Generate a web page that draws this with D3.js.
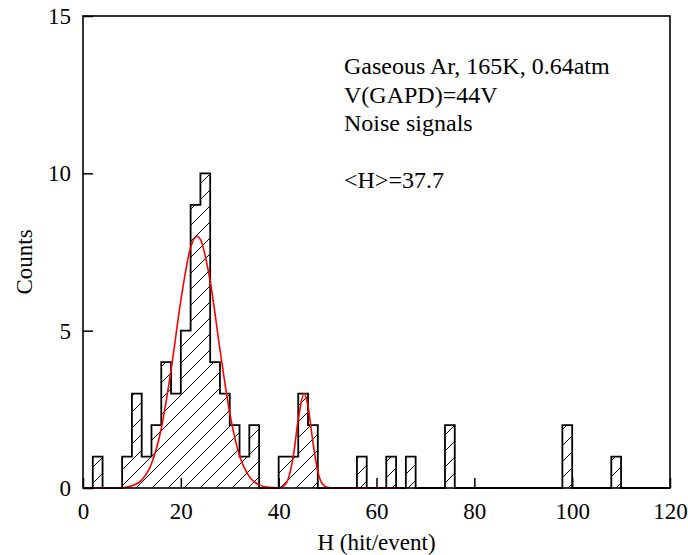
<!doctype html>
<html lang="en">
<head>
<meta charset="utf-8">
<script src="https://d3js.org/d3.v7.min.js"></script>
<style>
  body { margin: 0; background: #fff; }
  svg text { font-family: "Liberation Serif", "Times New Roman", serif; fill: #000; }
</style>
</head>
<body>
<div id="chart"></div>
<script>
// histogram: bins of width 2, only the non-empty ones listed
var binWidth = 2;
var binStarts = [2, 8, 10, 12, 14, 16, 18, 20, 22, 24, 26, 28, 30, 32, 34, 40, 42, 44, 46, 56, 62, 66, 74, 98, 108];
var binCounts = [1, 1, 3, 1, 2, 4, 3, 5, 9, 10, 4, 3, 2, 1, 2, 1, 1, 3, 2, 1, 1, 1, 2, 2, 1];

// red fit curves
var fit1X = [0, 8, 10, 12, 14, 16, 18, 20, 22, 23.3, 24, 26, 28, 30, 32, 34, 36, 38, 40];
var fit1Y = [0, 0.01, 0.07, 0.25, 0.77, 1.89, 3.74, 5.96, 7.64, 8, 7.9, 6.57, 4.4, 2.38, 1.03, 0.36, 0.1, 0.02, 0];
var fit2X = [36, 40, 41, 42, 43, 44, 45.2, 46, 47, 48, 49, 50, 51, 65];
var fit2Y = [0, 0.01, 0.06, 0.31, 1.02, 2.18, 3, 2.6, 1.46, 0.53, 0.12, 0.02, 0, 0];

var xTicks = [0, 20, 40, 60, 80, 100, 120];
var yTicks = [0, 5, 10, 15];
var notes = ["Gaseous Ar, 165K, 0.64atm", "V(GAPD)=44V", "Noise signals", "", "<H>=37.7"];

var width = 688, height = 555;
var margin = { top: 16, right: 18, bottom: 67, left: 83 };

var svg = d3.select("#chart").append("svg")
    .attr("width", width)
    .attr("height", height);

var x = d3.scaleLinear().domain([0, 120]).range([margin.left, width - margin.right]);
var y = d3.scaleLinear().domain([0, 15]).range([height - margin.bottom, margin.top]);

// hatch pattern
var pat = svg.append("defs").append("pattern")
    .attr("id", "hatch")
    .attr("patternUnits", "userSpaceOnUse")
    .attr("width", 16).attr("height", 16);
pat.append("path")
    .attr("d", "M0,16 L16,0 M-4,4 L4,-4 M12,20 L20,12")
    .attr("stroke", "#000").attr("stroke-width", 1);

// count per bin over the whole range (empty bins = 0)
var counts = new Map();
binStarts.forEach(function (s, i) { counts.set(s, binCounts[i]); });
var bins = d3.range(0, 120, binWidth).map(s => ({ x0: s, x1: s + binWidth, n: counts.get(s) || 0 }));

// step outline
var pts = [[0, 0]];
bins.forEach(function (b) { pts.push([b.x0, b.n], [b.x1, b.n]); });
pts.push([120, 0]);

svg.append("path")
    .datum(pts)
    .attr("d", d3.line().x(d => x(d[0])).y(d => y(d[1])))
    .attr("fill", "url(#hatch)")
    .attr("stroke", "#000")
    .attr("stroke-width", 1.8)
    .attr("stroke-linejoin", "miter");

// fits
var fitLine = d3.line().x(d => x(d[0])).y(d => y(d[1])).curve(d3.curveMonotoneX);
[[fit1X, fit1Y], [fit2X, fit2Y]].forEach(function (f) {
    svg.append("path")
        .datum(f[0].map((v, i) => [v, f[1][i]]))
        .attr("d", fitLine)
        .attr("fill", "none")
        .attr("stroke", "#ff0000")
        .attr("stroke-width", 1.6);
});

// axes, ticks inward
var xAxis = svg.append("g")
    .attr("transform", "translate(0," + y(0) + ")")
    .call(d3.axisBottom(x).tickValues(xTicks).tickSize(-10).tickPadding(15));
var yAxis = svg.append("g")
    .attr("transform", "translate(" + x(0) + ",0)")
    .call(d3.axisLeft(y).tickValues(yTicks).tickSize(-10).tickPadding(12));
[xAxis, yAxis].forEach(function (g) {
    g.select(".domain").remove();
    g.selectAll(".tick line").attr("stroke", "#000").attr("stroke-width", 1.5);
    g.selectAll(".tick text").style("font-size", "23px").attr("fill", "#000");
});

// frame
svg.append("rect")
    .attr("x", x(0)).attr("y", y(15))
    .attr("width", x(120) - x(0)).attr("height", y(0) - y(15))
    .attr("fill", "none").attr("stroke", "#000").attr("stroke-width", 1.6);

// axis titles
svg.append("text")
    .attr("x", (x(0) + x(120)) / 2).attr("y", 550)
    .attr("text-anchor", "middle")
    .style("font-size", "23px")
    .text("H (hit/event)");

svg.append("text")
    .attr("transform", "translate(32," + (y(7.5) + 10) + ") rotate(-90)")
    .attr("text-anchor", "middle")
    .style("font-size", "23px")
    .text("Counts");

// annotation
svg.append("g").selectAll("text")
    .data(notes)
    .join("text")
    .attr("x", 344)
    .attr("y", (d, i) => 74 + i * 28.6)
    .style("font-size", "24px")
    .text(d => d);
</script>
</body>
</html>
